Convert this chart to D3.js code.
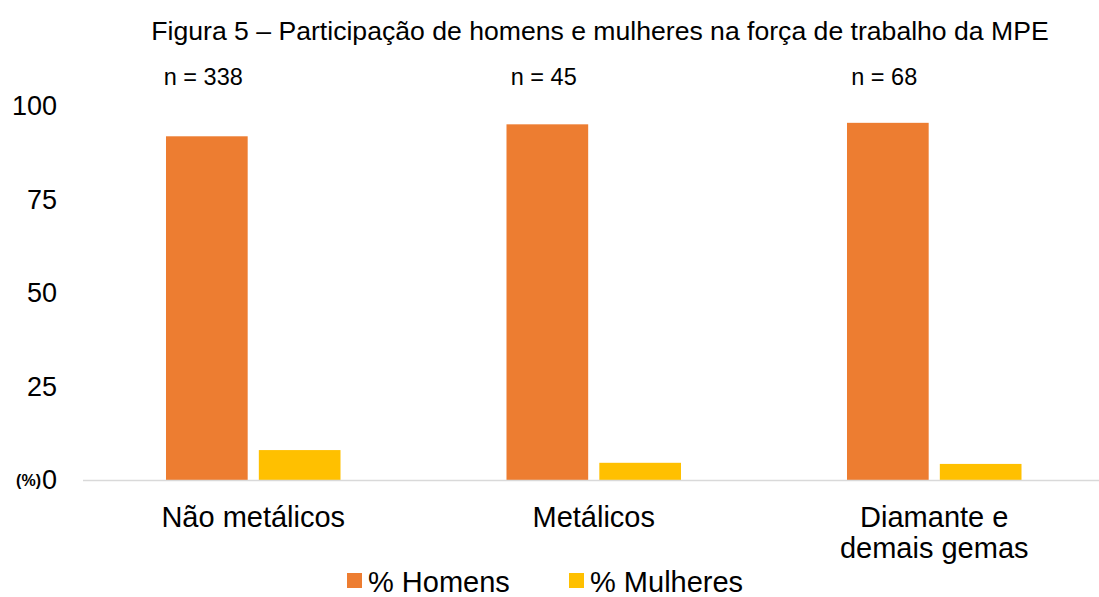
<!DOCTYPE html>
<html>
<head>
<meta charset="utf-8">
<script src="https://cdn.jsdelivr.net/npm/d3@7"></script>
<style>
  body { margin: 0; background: #fff; }
  text { font-family: "Liberation Sans", Arial, sans-serif; fill: #000; }
</style>
</head>
<body>
<div id="chart"></div>
<script>
// Data
const categories = ["Não metálicos", "Metálicos", "Diamante e\ndemais gemas"];
const sampleSizes = ["n = 338", "n = 45", "n = 68"];
const series = ["% Homens", "% Mulheres"];
const homens = [91.9, 95.1, 95.5];
const mulheres = [8.0, 4.6, 4.3];
const yTicks = [0, 25, 50, 75, 100];

const colors = { "% Homens": "#ED7D31", "% Mulheres": "#FFC000" };

const width = 1099, height = 597;
const margin = { left: 83, right: -5.5, top: 106, bottom: 117 };

const svg = d3.select("#chart").append("svg")
    .attr("width", width)
    .attr("height", height);

const x = d3.scaleBand()
    .domain(categories)
    .range([margin.left, width - margin.right])
    .paddingInner(0.4875)
    .paddingOuter(0.24375);

const xInner = d3.scaleBand()
    .domain(series)
    .range([0, x.bandwidth()])
    .paddingInner(0.12);

const y = d3.scaleLinear()
    .domain([0, 100])
    .range([height - margin.bottom, margin.top]);

// Title
svg.append("text")
    .attr("x", 600)
    .attr("y", 40)
    .attr("text-anchor", "middle")
    .style("font-size", "26.6px")
    .text("Figura 5 – Participação de homens e mulheres na força de trabalho da MPE");

// y axis labels
const yAxis = svg.append("g")
    .attr("transform", `translate(57,0)`)
    .call(d3.axisLeft(y).tickValues(yTicks).tickSize(0).tickPadding(0));
yAxis.select(".domain").remove();
yAxis.selectAll("text")
    .style("font-family", '"Liberation Sans", Arial, sans-serif')
    .style("font-size", "27px")
    .attr("fill", "#000");

svg.append("text")
    .attr("x", 41)
    .attr("y", y(0))
    .attr("dy", "0.38em")
    .attr("text-anchor", "end")
    .style("font-size", "16px")
    .style("font-weight", "bold")
    .text("(%)");

// bars
const rows = categories.map((c, i) => ({ cat: c, values: [homens[i], mulheres[i]] }));

const groups = svg.append("g")
    .selectAll("g")
    .data(rows)
    .join("g")
    .attr("transform", d => `translate(${x(d.cat)},0)`);

groups.selectAll("rect")
    .data(d => d.values.map((v, j) => ({ key: series[j], value: v })))
    .join("rect")
    .attr("x", d => xInner(d.key))
    .attr("y", d => y(d.value))
    .attr("width", xInner.bandwidth())
    .attr("height", d => y(0) - y(d.value))
    .attr("fill", d => colors[d.key]);

// baseline
svg.append("line")
    .attr("x1", margin.left)
    .attr("x2", width)
    .attr("y1", y(0) + 0.5)
    .attr("y2", y(0) + 0.5)
    .attr("stroke", "#d9d9d9")
    .attr("stroke-width", 1.5);

// n labels
svg.append("g")
    .selectAll("text")
    .data(categories)
    .join("text")
    .attr("x", (d, i) => x(d) + x.bandwidth() / 2 - 50)
    .attr("y", 85)
    .attr("text-anchor", "middle")
    .style("font-size", "23.5px")
    .text((d, i) => sampleSizes[i]);

// category labels
const catLabels = svg.append("g")
    .selectAll("text")
    .data(categories)
    .join("text")
    .attr("x", d => x(d) + x.bandwidth() / 2)
    .attr("y", 527)
    .attr("text-anchor", "middle")
    .style("font-size", "29px");

catLabels.selectAll("tspan")
    .data(d => d.split("\n"))
    .join("tspan")
    .attr("x", function () { return d3.select(this.parentNode).attr("x"); })
    .attr("dy", (d, i) => i === 0 ? 0 : 31)
    .text(d => d);

// legend
const legend = svg.append("g")
    .selectAll("g")
    .data(series)
    .join("g")
    .attr("transform", (d, i) => `translate(${347 + i * 222},573)`);

legend.append("rect")
    .attr("width", 15)
    .attr("height", 15)
    .attr("fill", d => colors[d]);

legend.append("text")
    .attr("x", 21)
    .attr("y", 19)
    .style("font-size", "29px")
    .text(d => d);
</script>
</body>
</html>
